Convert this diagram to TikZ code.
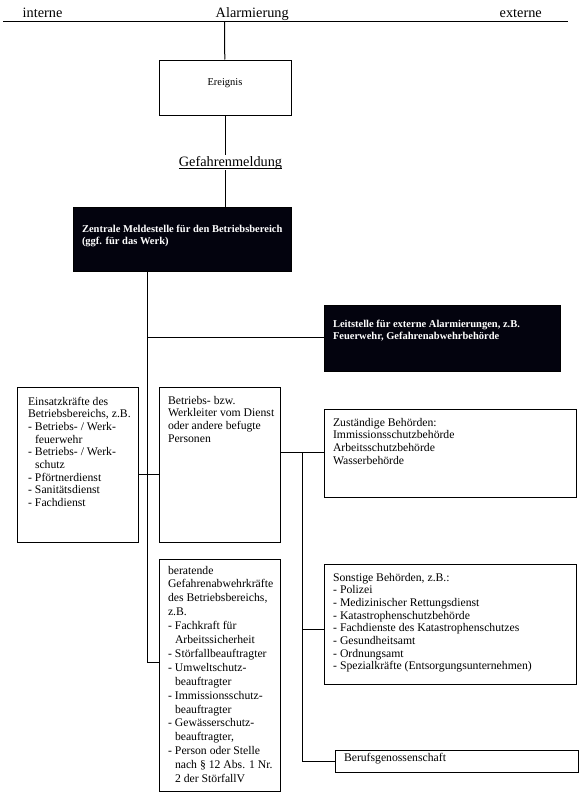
\documentclass[tikz,border=0pt]{standalone}
\usepackage{fontspec}
\setmainfont{Liberation Serif}
\usepackage{tikz}

\definecolor{dunkel}{RGB}{3,3,14}
\newcommand{\strich}{\makebox[7pt][l]{-}}
\newcommand{\einr}{\hspace*{7pt}}

\tikzset{
  linie/.style={line width=1pt},
  kopf/.style={inner sep=0pt, font=\fontsize{14.3}{16}\selectfont},
  kasten/.style={draw, line width=1pt, anchor=north west, align=flush left,
    inner xsep=9pt, inner ysep=0pt, font=\fontsize{11.7}{12.7}\selectfont,
    execute at begin node={\rightskip=-10pt plus 1fil}},
  schwarz/.style={kasten, fill=dunkel, text=white,
    font=\fontsize{10.5}{12.5}\selectfont\bfseries}
}

\begin{document}
\begin{tikzpicture}[x=1pt, y=-1pt]
% Rahmen wie im Original (halbes Pixel versetzt, damit die Linien scharf sind)
\useasboundingbox (-0.5,-0.5) rectangle (582.5,805.5);

% Kopfzeile
\node[kopf, anchor=base west] (intern) at (22,17) {interne};
\node[kopf, anchor=base west] (alarm) at (215,17) {Alarmierung};
\node[kopf, anchor=base west] (extern) at (499,17) {externe};
\coordinate (links) at (3,21);
\coordinate (rechts) at (567,21);
\coordinate (oben) at (224,21);
\draw[linie] (links) -- (rechts);

% Ereignis und Meldung
\node[kasten, minimum width=132pt, text height=25pt, text depth=30pt,
  font=\fontsize{10.5}{12}\selectfont] (ereignis) at (158,59) {Ereignis};
\node[kopf, anchor=base, inner ysep=1.5pt] (meldung) at (230,166)
  {\underline{\raisebox{0pt}[\height][0pt]{Gefahrenmeldung}}};
\node[schwarz, text width=200pt, text height=25pt, text depth=39pt]
  (zentrale) at (72,206) {Zentrale Meldestelle für den Betriebsbereich\\(ggf. für das Werk)};
\node[schwarz, text width=218pt, text height=22pt, text depth=44pt]
  (leit) at (323,304) {Leitstelle für externe Alarmierungen, z.B.\\Feuerwehr, Gefahrenabwehrbehörde};

% interne Kraefte
\node[kasten, inner xsep=11pt, text width=99pt, text height=18pt, text depth=137pt]
  (einsatz) at (16,386) {%
  Einsatzkräfte des\\
  Betriebsbereichs, z.B.\\
  \strich Betriebs- / Werk-\\
  \einr feuerwehr\\
  \strich Betriebs- / Werk-\\
  \einr schutz\\
  \strich Pförtnerdienst\\
  \strich Sanitätsdienst\\
  \strich Fachdienst};
\node[kasten, text width=103pt, text height=17pt, text depth=138pt] (betrieb) at (158,386) {%
  Betriebs- bzw.\\
  Werkleiter vom Dienst\\
  oder andere befugte\\
  Personen};
\node[kasten, text width=103pt, text height=15pt, text depth=217pt,
  font=\fontsize{11.7}{13.9}\selectfont] (beratend) at (158,558) {%
  beratende\\
  Gefahrenabwehrkräfte\\
  des Betriebsbereichs,\\
  z.B.\\
  \strich Fachkraft für\\
  \einr Arbeitssicherheit\\
  \strich Störfallbeauftragter\\
  \strich Umweltschutz-\\
  \einr beauftragter\\
  \strich Immissionsschutz-\\
  \einr beauftragter\\
  \strich Gewässerschutz-\\
  \einr beauftragter,\\
  \strich Person oder Stelle\\
  \einr nach § 12 Abs. 1 Nr.\\
  \einr 2 der StörfallV};

% Behoerden
\node[kasten, text width=234pt, text height=17pt, text depth=71pt] (zust) at (323,408) {%
  Zuständige Behörden:\\
  Immissionsschutzbehörde\\
  Arbeitsschutzbehörde\\
  Wasserbehörde};
\node[kasten, text width=234pt, text height=17pt, text depth=103pt] (sonst) at (323,563) {%
  Sonstige Behörden, z.B.:\\
  \strich Polizei\\
  \strich Medizinischer Rettungsdienst\\
  \strich Katastrophenschutzbehörde\\
  \strich Fachdienste des Katastrophenschutzes\\
  \strich Gesundheitsamt\\
  \strich Ordnungsamt\\
  \strich Spezialkräfte (Entsorgungsunternehmen)};
\node[kasten, text width=225pt, text height=11pt, text depth=11pt] (beruf) at (334,749) {Berufsgenossenschaft};

% Verbindungen
\coordinate (stamm) at (147,337);
\coordinate (quer) at (147,474);
\coordinate (unten) at (147,662);
\coordinate (ast) at (302,452);
\coordinate (sonstig) at (302,629);
\draw[linie] (oben) -- (ereignis);
\draw[linie] (ereignis) -- (ereignis.south |- meldung.north);
\draw[linie] (ereignis.south |- meldung.south) -- (ereignis.south |- zentrale.north);
\draw[linie] (zentrale.south -| stamm) -- (unten) -- (unten -| beratend.west);
\draw[linie] (stamm) -- (stamm -| leit.west);
\draw[linie] (quer -| einsatz.east) -- (quer -| betrieb.west);
\draw[linie] (betrieb.east |- ast) -- (ast -| zust.west);
\draw[linie] (ast) -- (ast |- beruf.west) -- (beruf.west);
\draw[linie] (sonstig) -- (sonstig -| sonst.west);
\end{tikzpicture}
\end{document}
